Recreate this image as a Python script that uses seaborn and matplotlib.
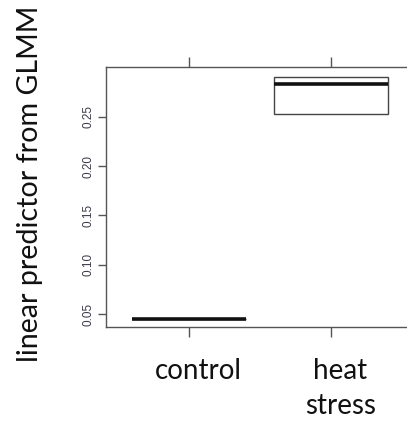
import matplotlib
matplotlib.use("Agg")
import matplotlib.pyplot as plt
import matplotlib.transforms as mtransforms
import pandas as pd
import seaborn as sns

# values (R boxplot of GLMM linear predictor)
groups = ["control", "heat stress"]
control_vals = [0.0453, 0.0453, 0.0453, 0.0453]
heat_vals = [0.2534, 0.2534, 0.2839, 0.2906, 0.2906]
tick_labels = ["control", "heat\nstress"]
y_ticks = [0.05, 0.10, 0.15, 0.20, 0.25]

df = pd.DataFrame({
    "group": [groups[0]] * len(control_vals) + [groups[1]] * len(heat_vals),
    "value": control_vals + heat_vals,
})

sns.set_style("white")
plt.rcParams["font.family"] = ["Liberation Sans", "DejaVu Sans"]

fig = plt.figure(figsize=(4.07, 4.21), dpi=100)
ax = fig.add_axes([0.2604, 0.2233, 0.7425, 0.6176])

sns.boxplot(df, x="group", y="value", order=groups, width=0.8, color="white",
            linecolor="#444444", linewidth=1.0, fliersize=0, showcaps=False,
            ax=ax, medianprops=dict(color="#111111", linewidth=2.6))

ax.set_xlim(-0.585, 1.542)
ax.set_ylim(0.0368, 0.3007)

for side in ["left", "bottom", "top"]:
    ax.spines[side].set_visible(True)
    ax.spines[side].set_color("#555555")
    ax.spines[side].set_linewidth(1.0)
ax.spines["right"].set_visible(False)

ax.set_yticks(y_ticks)
ax.set_yticklabels([f"{v:.2f}" for v in y_ticks], rotation=90, va="center",
                   fontsize=8.5, color="#3a3a4a")
ax.tick_params(axis="y", left=True, direction="out", length=6, width=1,
               color="#555555", pad=2)

ax.set_xticks([0, 1])
ax.set_xticklabels(tick_labels, fontsize=20, color="#111111",
                   family=["Lato", "DejaVu Sans"], linespacing=1.45)
ax.tick_params(axis="x", bottom=True, top=True, direction="out", length=7,
               width=1, color="#555555", pad=15)
shift = mtransforms.ScaledTranslation(9 / 100, 0, fig.dpi_scale_trans)
for lab in ax.get_xticklabels():
    lab.set_transform(lab.get_transform() + shift)
    lab.set_va("top")

ax.set_xlabel("")
ax.set_ylabel("")

fig.text(30 / 407, 1 - 184 / 421, "linear predictor from GLMM", rotation=90,
         ha="center", va="center", fontsize=20.6, color="#111111",
         family=["Lato", "DejaVu Sans"])

fig.savefig("out.png", dpi=100)
